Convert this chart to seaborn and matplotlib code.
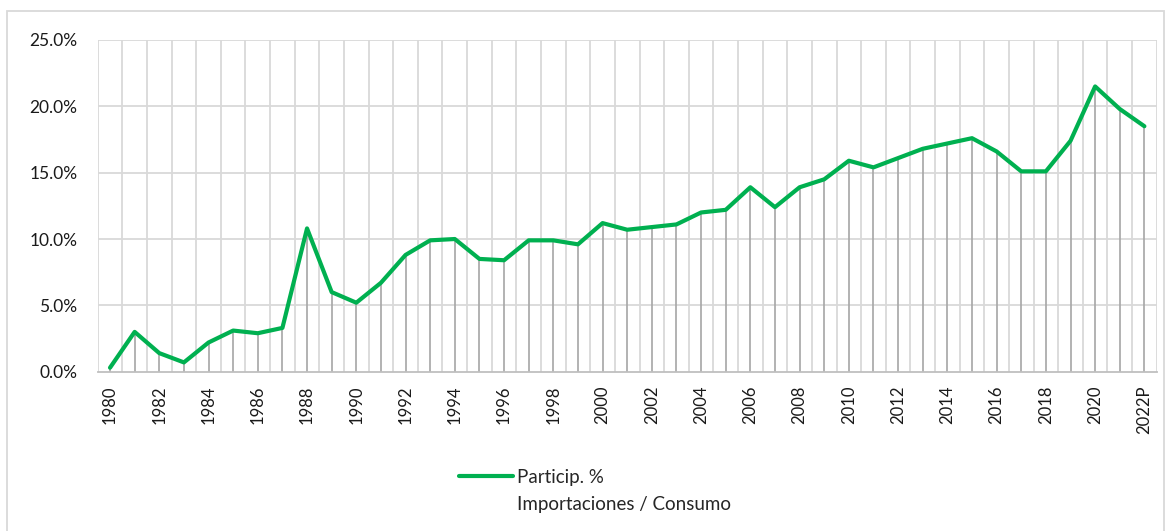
import numpy as np
import pandas as pd
import matplotlib
matplotlib.use("Agg")
import matplotlib.pyplot as plt
import seaborn as sns
from matplotlib.lines import Line2D
from matplotlib.patches import Rectangle
from matplotlib.ticker import PercentFormatter, FixedLocator

years = ["1980", "1981", "1982", "1983", "1984", "1985", "1986", "1987", "1988", "1989",
         "1990", "1991", "1992", "1993", "1994", "1995", "1996", "1997", "1998", "1999",
         "2000", "2001", "2002", "2003", "2004", "2005", "2006", "2007", "2008", "2009",
         "2010", "2011", "2012", "2013", "2014", "2015", "2016", "2017", "2018", "2019",
         "2020", "2021", "2022P"]
particip = [0.3, 3.0, 1.4, 0.7, 2.2, 3.1, 2.9, 3.3, 10.8, 6.0,
            5.2, 6.7, 8.8, 9.9, 10.0, 8.5, 8.4, 9.9, 9.9, 9.6,
            11.2, 10.7, 10.9, 11.1, 12.0, 12.2, 13.9, 12.4, 13.9, 14.5,
            15.9, 15.4, 16.1, 16.8, 17.2, 17.6, 16.6, 15.1, 15.1, 17.4,
            21.5, 19.8, 18.5]
series_label = "Particip. %"
series_label2 = "Importaciones / Consumo"
y_ticks = [0, 5, 10, 15, 20, 25]

GREEN = "#00B050"
GRID = "#D9D9D9"
DROP = "#A6A6A6"

sns.set_theme(style="white")
plt.rcParams["font.family"] = ["Lato", "DejaVu Sans"]

df = pd.DataFrame({"idx": np.arange(len(years)), "year": years, "value": particip})

W, H = 1169, 531
fig = plt.figure(figsize=(W / 100, H / 100), dpi=100)
ax = fig.add_axes([97.7 / W, 1 - 371.7 / H, (1156.7 - 97.7) / W, (371.7 - 40) / H])

# outer chart frame
fig.patches.append(Rectangle((7 / W, -0.05), (1164 - 7) / W, 1 - 11 / H + 0.05,
                             transform=fig.transFigure, fill=False,
                             edgecolor=GRID, linewidth=1.3, zorder=0))

# gridlines
for yv in y_ticks[1:]:
    ax.axhline(yv, color=GRID, linewidth=1.3, zorder=0)
for xb in np.arange(len(years) + 1) - 0.5:
    ax.axvline(xb, color=GRID, linewidth=1.3, zorder=0)

# drop lines
ax.vlines(df["idx"], 0, df["value"], color=DROP, linewidth=1.2, zorder=1)

sns.lineplot(data=df, x="idx", y="value", ax=ax, color=GREEN, linewidth=3.0,
             zorder=3, legend=False)

ax.set_xlim(-0.5, len(years) - 0.5)
ax.set_ylim(0, 25)
ax.yaxis.set_major_locator(FixedLocator(y_ticks))
ax.yaxis.set_major_formatter(PercentFormatter(decimals=1))
ax.set_xticks(df["idx"][::2])
ax.set_xticklabels(df["year"][::2], rotation=90, va="top", ha="center")
ax.tick_params(axis="y", length=0, pad=14.5, labelsize=12.5, labelcolor="#1a1a1a")
ax.tick_params(axis="x", length=0, pad=10, labelsize=12, labelcolor="#1a1a1a")
ax.set_xlabel("")
ax.set_ylabel("")
for s in ["top", "right", "left"]:
    ax.spines[s].set_visible(False)
ax.spines["bottom"].set_color("#BFBFBF")
ax.spines["bottom"].set_linewidth(1.3)
ax.spines["bottom"].set_zorder(2)

handles = [Line2D([], [], color=GREEN, linewidth=3.0),
           Line2D([], [], color="none")]
fig.legend(handles, [series_label, series_label2], loc="upper left",
           bbox_to_anchor=(459 / W, 1 - 469 / H), frameon=False, borderpad=0,
           borderaxespad=0, handlelength=2.9, handletextpad=0.2,
           labelspacing=0.55, fontsize=13.5)

fig.savefig("out.png", dpi=100)
